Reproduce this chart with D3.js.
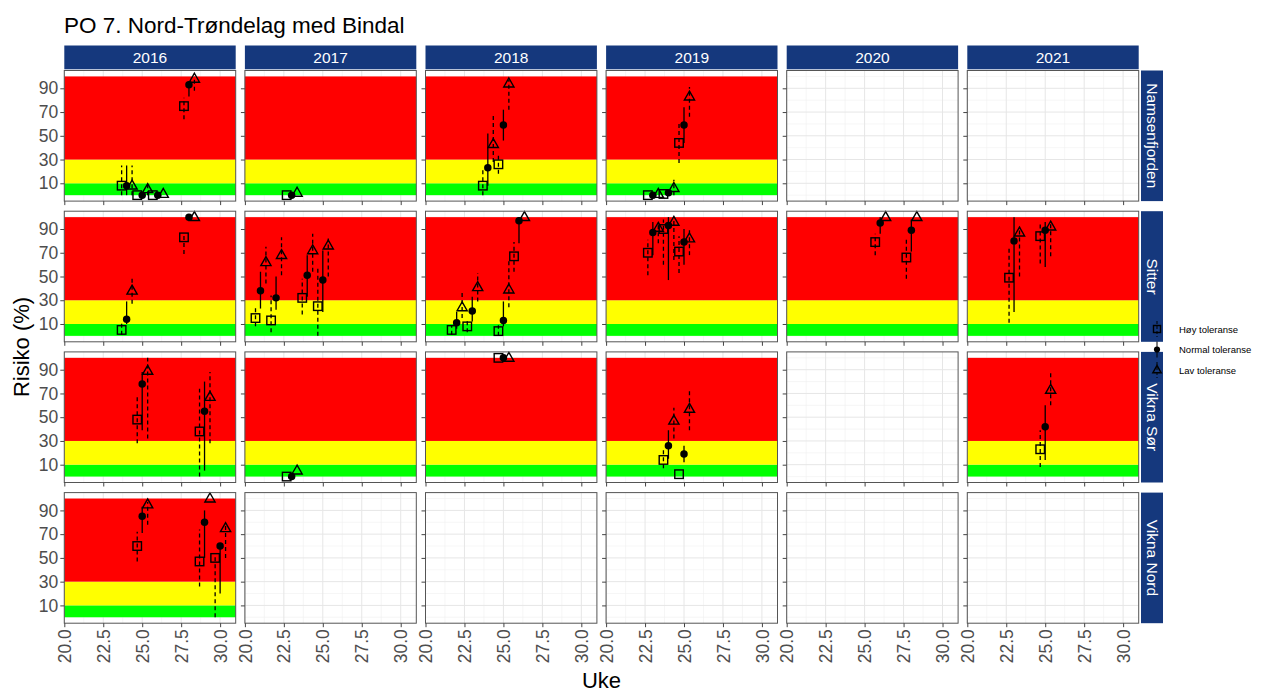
<!DOCTYPE html>
<html><head><meta charset="utf-8">
<script src="https://cdn.jsdelivr.net/npm/d3@7"></script>
<style>body{margin:0;background:#fff}svg{font-family:"Liberation Sans",Arial,sans-serif}</style>
</head><body><svg id="c" width="1281" height="693"></svg>
<script>
// ---------- data ----------
const title = "PO 7. Nord-Trøndelag med Bindal";
const years = [2016, 2017, 2018, 2019, 2020, 2021];
const sites = ["Namsenfjorden", "Sitter", "Vikna Sør", "Vikna Nord"];
const xTicks = [20, 22.5, 25, 27.5, 30];
const yTicks = [10, 30, 50, 70, 90];
const bandLow = [0, 10, 30];
const bandHigh = [10, 30, 100];
const seriesNames = ["Høy toleranse", "Normal toleranse", "Lav toleranse"];

const obsSite = ["Namsenfjorden","Namsenfjorden","Namsenfjorden","Namsenfjorden","Namsenfjorden","Namsenfjorden","Namsenfjorden","Namsenfjorden","Namsenfjorden","Namsenfjorden",
  "Sitter","Sitter","Sitter","Sitter","Sitter","Sitter","Sitter","Sitter","Sitter","Sitter","Sitter","Sitter","Sitter","Sitter","Sitter","Sitter","Sitter",
  "Vikna Sør","Vikna Sør","Vikna Sør","Vikna Sør","Vikna Sør","Vikna Sør","Vikna Sør",
  "Vikna Nord","Vikna Nord","Vikna Nord"];
const obsYear = [2016,2016,2016,2016,2017,2018,2018,2019,2019,2019,
  2016,2016,2017,2017,2017,2017,2018,2018,2018,2018,2019,2019,2019,2020,2020,2021,2021,
  2016,2016,2017,2018,2019,2019,2021,
  2016,2016,2016];
const obsWeek = [24,25,26,28,23,24,25,23,24,25,
  24,28,21,22,24,25,22,23,25,26,23,24,25,26,28,23,25,
  25,29,23,25,24,25,25,
  25,29,30];
const hoy    = [8,0,0,75,0,8,26,0,1,44, 5,83,15,13,32,25,5,8,4,67,70,90,71,79,66,49,84, 48,38,0,100,14,2,23, 60,47,50];
const hoyLo  = [0,0,0,64,0,0,18,0,1,27, 1,69,8,3,18,0,1,3,0,54,51,60,53,68,48,11,61, 28,0,0,100,7,2,8, 47,26,0];
const hoyHi  = [25,0,0,82,0,22,34,0,1,60, 11,86,24,34,48,58,9,13,9,79,81,98,84,86,82,74,95, 67,74,0,100,24,2,39, 72,74,52];
const normal   = [8,0,0,93,0,23,59,0,2,59, 14,100,38,32,51,47,11,21,13,97,87,93,79,95,89,80,89, 78,55,0,100,26,19,42, 85,80,60];
const normalLo = [0,0,0,83,0,8,46,0,2,44, 10,100,23,22,33,20,6,12,8,78,68,47,60,86,71,20,58, 39,5,0,100,15,12,14, 71,50,20];
const normalHi = [25,0,0,96,0,52,72,0,2,74, 29,100,54,50,68,72,20,33,29,100,96,100,90,100,98,100,96, 88,80,0,100,39,26,60, 93,90,62];
const lav   = [8,5,1,98,2,43,94,1,6,83, 38,100,62,68,72,76,24,41,39,100,91,96,82,100,100,87,92, 89,67,5,100,47,57,73, 95,100,75];
const lavLo = [0,0,1,88,2,28,72,1,0,66, 27,100,44,51,54,50,15,29,24,100,78,64,68,100,100,50,67, 32,28,5,100,32,39,60, 78,100,50];
const lavHi = [25,10,1,100,2,67,97,1,13,91, 50,100,75,83,86,82,36,53,64,100,95,100,91,100,100,92,96, 100,88,5,100,58,72,88, 97,100,78];

// ---------- layout ----------
const svg = d3.select("#c");
const left0 = 64.3, pw = 171.4, colStep = 180.6;
const top0 = 70.5, ph = 130.6, rowStep = 140.7;
const stripFill = "#15387d";
const bandColors = ["#00ff00", "#ffff00", "#ff0000"];
const x = d3.scaleLinear().domain([20, 31]).range([0, pw]);
const y = d3.scaleLinear().domain([-5, 105]).range([ph, 0]);
const offsets = [-0.32, 0, 0.35];

svg.append("text").attr("x", 64).attr("y", 33).attr("font-size", 22.5).attr("fill", "#000").text(title);

const obs = obsWeek.map((w, i) => ({site: obsSite[i], year: obsYear[i], week: w,
  vals: [[hoy[i], hoyLo[i], hoyHi[i]], [normal[i], normalLo[i], normalHi[i]], [lav[i], lavLo[i], lavHi[i]]]}));

function drawSymbol(g, k, cx, cy, s) {
  if (k === 0) {
    g.append("rect").attr("x", cx - s/2).attr("y", cy - s/2).attr("width", s).attr("height", s)
      .attr("fill", "none").attr("stroke", "#000").attr("stroke-width", 1.4);
  } else if (k === 1) {
    g.append("circle").attr("cx", cx).attr("cy", cy).attr("r", s*0.44).attr("fill", "#000");
  } else {
    const h = s * 1.05, w = s * 1.2;
    g.append("path").attr("d", `M${cx},${cy - h*0.62}L${cx + w/2},${cy + h*0.38}L${cx - w/2},${cy + h*0.38}Z`)
      .attr("fill", "none").attr("stroke", "#000").attr("stroke-width", 1.4).attr("stroke-linejoin", "miter");
  }
}

// top strips
years.forEach((yr, c) => {
  const sx = left0 + c*colStep;
  svg.append("rect").attr("x", sx).attr("y", 45.5).attr("width", pw).attr("height", 23.8).attr("fill", stripFill);
  svg.append("text").attr("x", sx + pw/2).attr("y", 62.5).attr("text-anchor", "middle")
    .attr("font-size", 15.5).attr("fill", "#fff").text(yr);
});
// right strips
sites.forEach((s, r) => {
  const sy = top0 + r*rowStep;
  svg.append("rect").attr("x", 1141).attr("y", sy).attr("width", 22).attr("height", ph).attr("fill", stripFill);
  svg.append("text").attr("transform", `translate(1146.5,${sy + ph/2}) rotate(90)`).attr("text-anchor", "middle")
    .attr("font-size", 15.5).attr("fill", "#fff").text(s);
});

sites.forEach((site, r) => {
  years.forEach((yr, c) => {
    const g = svg.append("g").attr("transform", `translate(${left0 + c*colStep},${top0 + r*rowStep})`);
    const pdata = obs.filter(d => d.site === site && d.year === yr);
    // grid
    const minorX = d3.range(21.25, 31, 2.5), minorY = d3.range(0, 101, 20);
    g.selectAll(".mx").data(minorX).join("line").attr("x1", d => x(d)).attr("x2", d => x(d)).attr("y1", 0).attr("y2", ph)
      .attr("stroke", "#f0f0f0").attr("stroke-width", 0.6);
    g.selectAll(".my").data(minorY).join("line").attr("y1", d => y(d)).attr("y2", d => y(d)).attr("x1", 0).attr("x2", pw)
      .attr("stroke", "#f0f0f0").attr("stroke-width", 0.6);
    g.selectAll(".gx").data(xTicks).join("line").attr("x1", d => x(d)).attr("x2", d => x(d)).attr("y1", 0).attr("y2", ph)
      .attr("stroke", "#e6e6e6").attr("stroke-width", 1);
    g.selectAll(".gy").data(yTicks).join("line").attr("y1", d => y(d)).attr("y2", d => y(d)).attr("x1", 0).attr("x2", pw)
      .attr("stroke", "#e6e6e6").attr("stroke-width", 1);
    if (pdata.length) {
      bandLow.forEach((lo, i) => {
        g.append("rect").attr("x", 0).attr("width", pw).attr("y", y(bandHigh[i])).attr("height", y(lo) - y(bandHigh[i]))
          .attr("fill", bandColors[i]);
      });
      pdata.forEach(d => {
        d.vals.forEach((v, k) => {
          const cx = x(d.week + offsets[k]);
          if (v[2] > v[1]) {
            g.append("line").attr("x1", cx).attr("x2", cx).attr("y1", y(v[1])).attr("y2", y(v[2]))
              .attr("stroke", "#000").attr("stroke-width", 1.3)
              .attr("stroke-dasharray", k === 1 ? null : "4,3");
          }
        });
      });
      pdata.forEach(d => {
        d.vals.forEach((v, k) => drawSymbol(g, k, x(d.week + offsets[k]), y(v[0]), 8.5));
      });
    }
    // border
    g.append("rect").attr("x", 0).attr("y", 0).attr("width", pw).attr("height", ph)
      .attr("fill", "none").attr("stroke", "#555").attr("stroke-width", 1);
    // axes
    const ax = g.append("g").attr("transform", `translate(0,${ph})`)
      .call(d3.axisBottom(x).tickValues(xTicks).tickSize(4).tickFormat(r === sites.length - 1 ? d3.format(".1f") : ""));
    ax.select(".domain").remove();
    ax.selectAll(".tick line").attr("stroke", "#444");
    ax.selectAll("text").attr("transform", "rotate(-90)").attr("text-anchor", "end")
      .attr("x", -6).attr("y", 0).attr("dy", "0.35em").attr("font-size", 17.5).attr("fill", "#4d4d4d")
      .attr("font-family", "Liberation Sans, Arial, sans-serif");
    const ay = g.append("g").call(d3.axisLeft(y).tickValues(yTicks).tickSize(4).tickFormat(c === 0 ? d3.format("d") : ""));
    ay.select(".domain").remove();
    ay.selectAll(".tick line").attr("stroke", "#444");
    ay.selectAll("text").attr("font-size", 17.5).attr("fill", "#4d4d4d").attr("x", -6)
      .attr("font-family", "Liberation Sans, Arial, sans-serif");
  });
});

// axis titles
svg.append("text").attr("x", 601.5).attr("y", 688).attr("text-anchor", "middle").attr("font-size", 22).text("Uke");
svg.append("text").attr("transform", "translate(29,347) rotate(-90)").attr("text-anchor", "middle").attr("font-size", 22).text("Risiko (%)");

// legend
const lg = svg.append("g");
seriesNames.forEach((nm, k) => {
  const ly = 329 + k*20.5, lx = 1157;
  lg.append("line").attr("x1", lx).attr("x2", lx).attr("y1", ly - 8).attr("y2", ly + 8).attr("stroke", "#000")
    .attr("stroke-width", 1).attr("stroke-dasharray", k === 1 ? null : "3,2");
  drawSymbol(lg, k, lx, ly, 7);
  lg.append("text").attr("x", 1179).attr("y", ly + 3.5).attr("font-size", 9.5).attr("fill", "#000").text(nm);
});
</script></body></html>
